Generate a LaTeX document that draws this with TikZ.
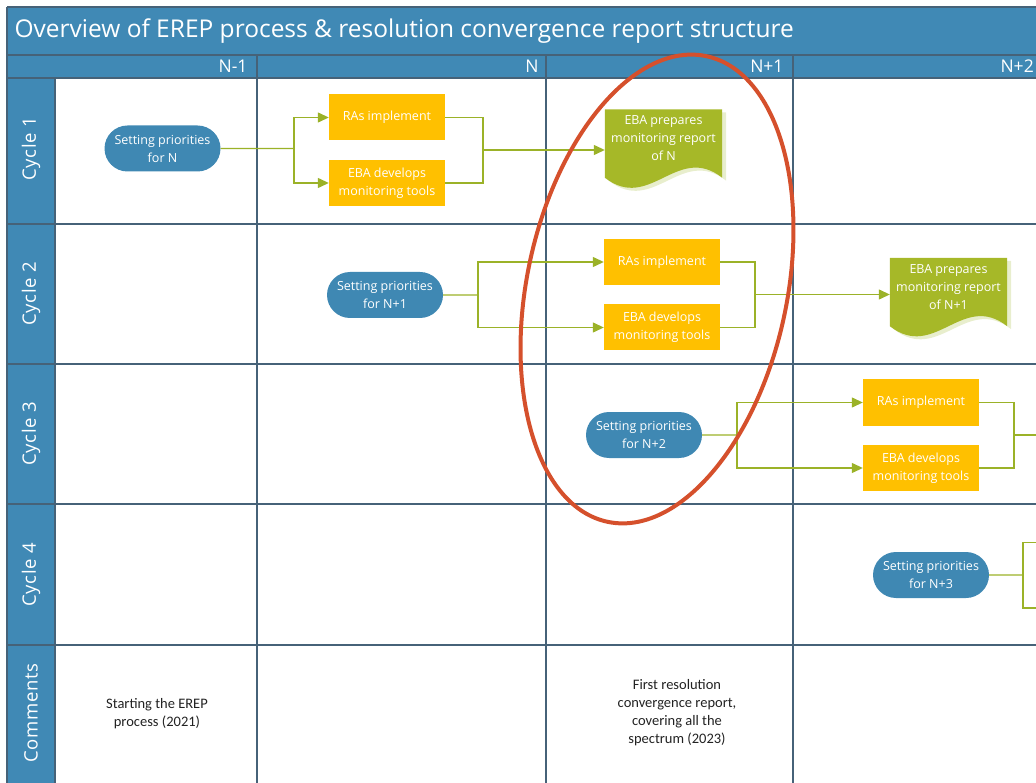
\documentclass[tikz,border=0pt]{standalone}
\usepackage{fontspec}
\setmainfont{Open Sans}
\newfontfamily\notefont{Carlito}
\newfontfamily\lanefont[LetterSpace=4]{Open Sans}
\usetikzlibrary{calc,arrows.meta,shapes.misc,backgrounds}

\definecolor{barblue}{RGB}{64,137,181}
\definecolor{gridline}{RGB}{70,98,120}
\definecolor{pillblue}{RGB}{63,136,179}
\definecolor{taskyellow}{RGB}{255,192,0}
\definecolor{docgreen}{RGB}{166,184,40}
\definecolor{docshade}{RGB}{232,238,205}
\definecolor{flowgreen}{RGB}{155,178,40}
\definecolor{ringred}{RGB}{213,80,44}
\definecolor{notetext}{RGB}{34,34,34}

\tikzset{
  boxfont/.style={font=\fontsize{12.5}{18}\selectfont},
  pill/.style={rounded rectangle, fill=pillblue, text=white, align=center, boxfont,
    minimum width=116, minimum height=46, inner sep=0pt},
  task/.style={rectangle, fill=taskyellow, text=white, align=center, boxfont,
    minimum width=116, minimum height=46, inner sep=0pt},
  report/.style={rectangle, text=white, align=center, boxfont,
    minimum width=117, minimum height=58, inner sep=0pt},
  lane/.style={rotate=90, text=white, font=\lanefont\fontsize{18.5}{22}\selectfont},
  colhead/.style={text=white, font=\fontsize{17.5}{20}\selectfont},
  note/.style={align=center, text=notetext, font=\notefont\fontsize{14.5}{18}\selectfont},
  grid/.style={draw=gridline, line width=1.6},
  link/.style={draw=flowgreen, line width=1.3},
  flow/.style={link, -{Triangle[length=11,width=10]}},
  ring/.style={draw=ringred, line width=4}
}

% wavy report body behind a report node
\newcommand{\reportbody}[1]{%
  \begin{scope}[on background layer]
    \fill[docshade] ($(#1.north west)+(4,3)$) -- ($(#1.north east)+(4,3)$) -- ($(#1.south east)+(4,13)$)
      .. controls ($(#1.south east)+(-41,-22)$) and ($(#1.south west)+(49,48)$) .. ($(#1.south west)+(4,13)$) -- cycle;
    \fill[docgreen] (#1.north west) -- (#1.north east) -- ($(#1.south east)+(0,10)$)
      .. controls ($(#1.south east)+(-45,-25)$) and ($(#1.south west)+(45,45)$) .. ($(#1.south west)+(0,10)$) -- cycle;
  \end{scope}}

\begin{document}
\begin{tikzpicture}[x=1pt,y=-1pt]
  \useasboundingbox (0,0) rectangle (1036,783);
  \clip (0,0) rectangle (1036,783);

  % frame, title bar and swimlanes
  \fill[barblue] (7,7) rectangle (1036,78);
  \fill[barblue] (7,78) rectangle (55,783);
  \draw[grid] (7,7) -- (1036,7); \draw[grid] (7,7) -- (7,783);
  \draw[grid] (7,55) -- (1036,55);
  \draw[grid] (7,78) -- (1036,78); \draw[grid] (7,224) -- (1036,224); \draw[grid] (7,364) -- (1036,364);
  \draw[grid] (7,504) -- (1036,504); \draw[grid] (7,645) -- (1036,645);
  \draw[grid] (55,78) -- (55,783); \draw[grid] (257,55) -- (257,783);
  \draw[grid] (546,55) -- (546,783); \draw[grid] (793,55) -- (793,783);

  \node[text=white, anchor=west, font=\fontsize{24.5}{28}\selectfont] (title) at (11,31)
    {Overview of EREP process \& resolution convergence report structure};
  \node[colhead, anchor=east] (hA) at (251,66.5) {N-1};
  \node[colhead, anchor=east] (hB) at (542,66.5) {N};
  \node[colhead, anchor=east] (hC) at (787,66.5) {N+1};
  \node[colhead, anchor=west] (hD) at (997,66.5) {N+2};

  \node[lane] (lane1) at (31,149) {Cycle 1};
  \node[lane] (lane2) at (31,294) {Cycle 2};
  \node[lane] (lane3) at (31,434) {Cycle 3};
  \node[lane] (lane4) at (31,574.5) {Cycle 4};
  \node[lane] (lane5) at (31,713) {Comments};

  % cycle 1
  \node[pill] (sp1) at (162.5,148.5) {Setting priorities\\for N};
  \node[task] (ra1) at (387,117.5) {RAs implement};
  \node[task] (ed1) at (387,183) {EBA develops\\monitoring tools};
  \node[report] (rep1) at (663.5,138.5) {EBA prepares\\monitoring report\\of N};
  \reportbody{rep1}
  \coordinate (j1) at (294,148.5); \coordinate (m1) at (483,150);
  \draw[link] (sp1) -- (j1);
  \draw[flow] (j1) |- (ra1.west); \draw[flow] (j1) |- (ed1.west);
  \draw[link] (ra1.east) -| (m1); \draw[link] (ed1.east) -| (m1);
  \draw[flow] (m1) -- (m1 -| rep1.west);

  % cycle 2
  \node[pill] (sp2) at (385,295) {Setting priorities\\for N+1};
  \node[task] (ra2) at (662,262) {RAs implement};
  \node[task] (ed2) at (662,327.5) {EBA develops\\monitoring tools};
  \node[report] (rep2) at (948.5,287) {EBA prepares\\monitoring report\\of N+1};
  \reportbody{rep2}
  \coordinate (j2) at (478,295); \coordinate (m2) at (755,294.5);
  \draw[link] (sp2) -- (j2);
  \draw[flow] (j2) |- (ra2.west); \draw[flow] (j2) |- (ed2.west);
  \draw[link] (ra2.east) -| (m2); \draw[link] (ed2.east) -| (m2);
  \draw[flow] (m2) -- (m2 -| rep2.west);

  % cycle 3
  \node[pill] (sp3) at (644,435) {Setting priorities\\for N+2};
  \node[task] (ra3) at (921,402.5) {RAs implement};
  \node[task] (ed3) at (921,468) {EBA develops\\monitoring tools};
  \coordinate (j3) at (737,435); \coordinate (m3) at (1014,435); \coordinate (out3) at (1040,435);
  \draw[link] (sp3) -- (j3);
  \draw[flow] (j3) |- (ra3.west); \draw[flow] (j3) |- (ed3.west);
  \draw[link] (ra3.east) -| (m3); \draw[link] (ed3.east) -| (m3);
  \draw[link] (m3) -- (out3);

  % cycle 4
  \node[pill] (sp4) at (931,575) {Setting priorities\\for N+3};
  \coordinate (j4) at (1023,575); \coordinate (ra4) at (1040,542.5); \coordinate (ed4) at (1040,608);
  \draw[link] (sp4) -- (j4);
  \draw[link] (j4) |- (ra4); \draw[link] (j4) |- (ed4);

  % comments
  \node[note] (note1) at (157,714) {Starting the EREP\\process (2021)};
  \node[note] (note2) at (677,713) {First resolution\\convergence report,\\covering all the\\spectrum (2023)};

  % highlight
  \draw[ring, rotate around={78:(657,289)}] (657,289) ellipse [x radius=238, y radius=130];
\end{tikzpicture}
\end{document}
